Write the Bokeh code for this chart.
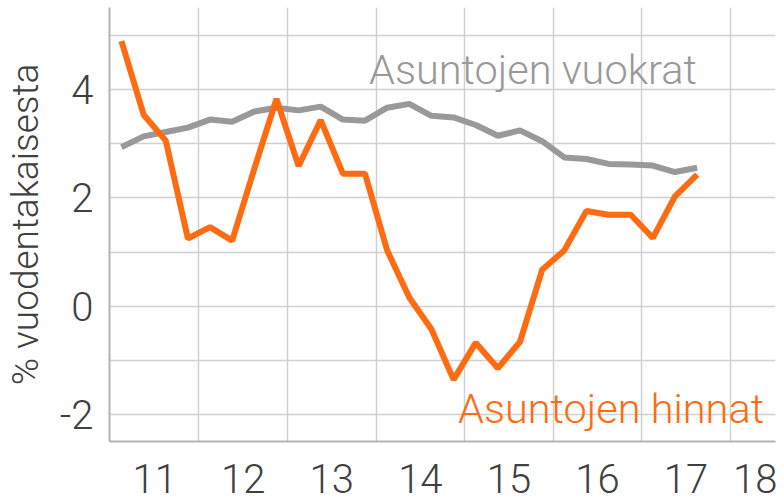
from bokeh.plotting import figure
from bokeh.models import FixedTicker, Range1d, Label
from bokeh.embed import file_html
from bokeh.resources import INLINE

# Quarterly periods 2011Q1 .. 2017Q3
periods = [f"{y}Q{q}" for y in range(2011, 2018) for q in range(1, 5)][:27]

# Housing prices, % change year on year
hinnat = [4.90, 3.54, 3.06, 1.25, 1.46, 1.21, 2.54, 3.83, 2.59, 3.44, 2.45, 2.45,
          1.03, 0.16, -0.43, -1.36, -0.68, -1.15, -0.66, 0.67, 1.03, 1.76, 1.69,
          1.69, 1.26, 2.03, 2.43]
# Rents, % change year on year
vuokrat = [2.94, 3.14, 3.22, 3.30, 3.45, 3.41, 3.60, 3.67, 3.62, 3.69, 3.45, 3.43,
           3.67, 3.74, 3.52, 3.49, 3.35, 3.15, 3.25, 3.05, 2.75, 2.72, 2.63, 2.62,
           2.60, 2.48, 2.56]

year_labels = ["11", "12", "13", "14", "15", "16", "17", "18"]
y_ticks = [-2, 0, 2, 4]
y_grid = [-2, -1, 0, 1, 2, 3, 4, 5]
year_bounds = [2012, 2013, 2014, 2015, 2016, 2017, 2018]

x = [int(p[:4]) + (int(p[5]) - 0.5) / 4 for p in periods]

FONT = "Roboto Light"
TEXT = "#404040"
ORANGE = "#FF6B10"
GREY = "#999999"

p = figure(frame_width=666, frame_height=434,
           x_range=Range1d(2010.99, 2018.51), y_range=Range1d(-2.505, 5.523),
           output_backend="svg", toolbar_location=None,
           min_border_left=109, min_border_top=7, min_border_right=4,
           min_border_bottom=0)
p.outline_line_color = None
p.background_fill_color = "white"
p.border_fill_color = "white"

# grids
p.xgrid.ticker = FixedTicker(ticks=year_bounds)
p.ygrid.ticker = FixedTicker(ticks=y_grid)
for g in (p.xgrid, p.ygrid):
    g.grid_line_color = "#d0d0d0"
    g.grid_line_width = 1.5

# x axis: year labels centred on each year (last one pulled inside the frame)
x_tick_pos = [2011.5, 2012.5, 2013.5, 2014.5, 2015.5, 2016.5, 2017.5, 2018.28]
p.xaxis.ticker = FixedTicker(ticks=x_tick_pos)
p.xaxis.major_label_overrides = {t: l for t, l in zip(x_tick_pos, year_labels)}
p.yaxis.ticker = FixedTicker(ticks=y_ticks)
p.yaxis.major_label_overrides = {t: str(t) for t in y_ticks}

for ax in (p.xaxis[0], p.yaxis[0]):
    ax.axis_line_color = "#b3b3b3"
    ax.axis_line_width = 2
    ax.major_tick_line_color = None
    ax.minor_tick_line_color = None
    ax.major_label_text_font = FONT
    ax.major_label_text_font_size = "40px"
    ax.major_label_text_color = TEXT

p.xaxis.major_label_standoff = 16
p.yaxis.major_label_standoff = 10
p.yaxis.axis_label = "% vuodentakaisesta"
p.yaxis.axis_label_text_font = FONT
p.yaxis.axis_label_text_font_size = "37px"
p.yaxis.axis_label_text_font_style = "normal"
p.yaxis.axis_label_text_color = TEXT
p.yaxis.axis_label_standoff = 10

p.line(x, vuokrat, line_width=6, color=GREY)
p.line(x, hinnat, line_width=6, color=ORANGE)

p.add_layout(Label(x=2013.92, y=4.38, text="Asuntojen vuokrat", text_font=FONT,
                   text_font_size="41.5px", text_color=GREY, text_align="left",
                   text_baseline="alphabetic"))
p.add_layout(Label(x=2018.38, y=-1.89, text="Asuntojen hinnat", text_font=FONT,
                   text_font_size="41.5px", text_color=ORANGE, text_align="right",
                   text_baseline="alphabetic"))

open("out.html", "w").write(file_html(p, INLINE))
